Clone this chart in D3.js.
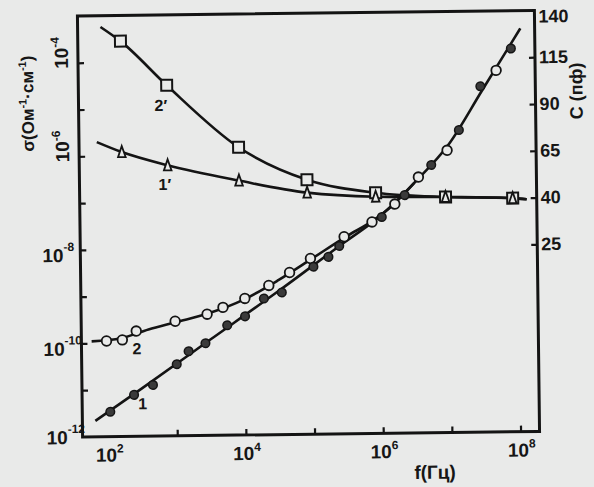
<!DOCTYPE html>
<html>
<head>
<meta charset="utf-8">
<script src="https://cdn.jsdelivr.net/npm/d3@7"></script>
<style>
  body { margin: 0; background: #e9eae9; }
  svg { display: block; }
  text { font-family: "Liberation Sans", Arial, sans-serif; font-weight: bold; fill: #161616; }
</style>
</head>
<body>
<div id="chart"></div>
<script>
// curve 1 : sigma, filled circles
var freq1  = [107, 239, 452, 1012, 1514, 2673, 5585, 1.02e4, 1.93e4, 3.53e4, 1.03e5, 1.71e5, 2.47e5, 1.04e6, 2.26e6, 5.58e6, 1.43e7, 2.99e7, 8.45e7];
var sigma1 = [3.4e-12, 7.7e-12, 1.24e-11, 3.4e-11, 6.4e-11, 9.4e-11, 2.24e-10, 3.44e-10, 8.2e-10, 1.09e-9, 3.8e-9, 6.1e-9, 1.04e-8, 4.2e-8, 1.22e-7, 5.3e-7, 2.9e-6, 2.47e-5, 1.56e-4];
// curve 2 : sigma, open circles
var freq2  = [97, 165, 264, 977, 2858, 4887, 1.02e4, 2.29e4, 4.62e4, 9.35e4, 2.92e5, 7.48e5, 1.62e6, 3.61e6, 9.55e6, 5.11e7];
var sigma2 = [1.11e-10, 1.16e-10, 1.78e-10, 2.82e-10, 3.91e-10, 5.43e-10, 8.3e-10, 1.55e-9, 2.9e-9, 5.7e-9, 1.63e-8, 3.32e-8, 7.9e-8, 2.94e-7, 1.08e-6, 5.36e-5];
// drawn (fitted) lines for 1 and 2
var fitFreq1  = [64.6, 316, 3162, 31623, 2.51e5, 1e6, 3.16e6, 1e7, 3.16e7, 1.17e8];
var fitSigma1 = [2.19e-12, 1.07e-11, 1.12e-10, 1.17e-9, 1.05e-8, 4.47e-8, 2.24e-7, 1.41e-6, 2.0e-5, 4.17e-4];
var fitFreq2  = [58.9, 158, 398, 1000, 3162, 1e4, 3.16e4, 1e5, 3.16e5, 7.94e5, 1.58e6, 3.16e6];
var fitSigma2 = [1.10e-10, 1.26e-10, 1.91e-10, 2.69e-10, 4.17e-10, 7.94e-10, 2.0e-9, 5.75e-9, 1.66e-8, 3.63e-8, 7.94e-8, 2.24e-7];

// capacitance curves 1' (triangles) and 2' (squares)
var capFreq = [175, 810, 8800, 8.6e4, 8.55e5, 8.9e6, 8.45e7];
var cap1 = [67.0, 59.6, 51.0, 44.1, 41.5, 40.9, 39.9];
var cap2 = [126.3, 102.4, 68.8, 51.0, 43.6, 40.9, 39.9];
var fitCapFreq1 = [76].concat(capFreq, [1.35e8]);
var fitCap1 = [72.5].concat(cap1, [39.5]);
var fitCapFreq2 = [90].concat(capFreq, [1.35e8]);
var fitCap2 = [134.0].concat(cap2, [39.5]);

// axes
var freqTicks = [1e3, 1e4, 1e5, 1e6, 1e7, 1e8];
var freqLabels = [2, 4, 6, 8];
var sigmaTicks = [1e-11, 1e-10, 1e-9, 1e-8, 1e-7, 1e-6, 1e-5, 1e-4];
var sigmaLabels = [-4, -6, -8, -10, -12];
var capTicks = [25, 40, 65, 90, 115, 140];
var capDecades = [1e-8, 1e-7, 1e-6, 1e-5, 1e-4, 1e-3];

var W = 594, H = 487;
var pl = 80, pr = 537, pt = 16, pb = 437;
var ink = "#141414", paper = "#e9eae9";

var svg = d3.select("#chart").append("svg").attr("width", W).attr("height", H);
// the scan is slightly tilted
var g = svg.append("g").attr("transform", "rotate(-0.7, 80, 226)");

var x = d3.scaleLog().domain([41.8, 1.89e8]).range([pl, pr]);
var y = d3.scaleLog().domain([1e-12, 1e-3]).range([pb, pt]);
// C axis is not linear, its ticks sit on the sigma decades
var yc = d3.scaleLinear().domain(capTicks).range(capDecades.map(function (v) { return y(v); }));

function pairs(a, b) { return a.map(function (v, i) { return [v, b[i]]; }); }

// ticks (pointing inward)
g.append("g").attr("transform", "translate(0," + pb + ")")
  .call(d3.axisBottom(x).tickValues(freqTicks).tickSize(-6).tickFormat(""));
g.append("g").attr("transform", "translate(" + pl + ",0)")
  .call(d3.axisLeft(y).tickValues(sigmaTicks).tickSize(-6).tickFormat(""));
g.append("g").attr("transform", "translate(" + pr + ",0)")
  .call(d3.axisRight(yc).tickValues(capTicks.slice(0, 5)).tickSize(-6).tickFormat(""));
g.selectAll(".domain").remove();
g.selectAll(".tick line").attr("stroke", ink).attr("stroke-width", 2.2);

g.append("rect").attr("x", pl).attr("y", pt)
  .attr("width", pr - pl).attr("height", pb - pt)
  .attr("fill", "none").attr("stroke", ink).attr("stroke-width", 3);

// bottom labels 10^n
var bl = g.selectAll(".xl").data(freqLabels).enter().append("text")
  .attr("x", function (d) { return x(Math.pow(10, d)) + 1; })
  .attr("y", 462).attr("text-anchor", "middle").style("font-size", "19px");
bl.append("tspan").text("10");
bl.append("tspan").attr("dy", -9).style("font-size", "12px").text(function (d) { return d; });

// left labels
var ll = g.selectAll(".yl").data(sigmaLabels.filter(function (d) { return d <= -8; })).enter().append("text")
  .attr("x", function (d) { return d == -12 ? 44 : 42; })
  .attr("y", function (d) { return Math.min(y(Math.pow(10, d)) + 12, 444); })
  .style("font-size", "19px");
ll.append("tspan").text("10");
ll.append("tspan").attr("dy", -11).style("font-size", "12px").text(function (d) { return d; });

var lr = g.selectAll(".ylr").data(sigmaLabels.filter(function (d) { return d > -8; })).enter().append("text")
  .attr("transform", function (d) { return "translate(70," + (y(Math.pow(10, d)) - 10) + ") rotate(-90)"; })
  .attr("text-anchor", "middle").style("font-size", "19px");
lr.append("tspan").text("10");
lr.append("tspan").attr("dy", -9).style("font-size", "12px").text(function (d) { return d; });

// right labels
g.selectAll(".cl").data(capTicks).enter().append("text")
  .attr("x", 541)
  .attr("y", function (d) { return Math.max(yc(d) + 6, 28); })
  .style("font-size", "18px")
  .text(function (d) { return d; });

// axis titles
var ty = g.append("text").attr("transform", "translate(35,103) rotate(-90)")
  .attr("text-anchor", "middle").style("font-size", "17px");
ty.append("tspan").text("σ(Ом");
ty.append("tspan").attr("dy", -7).style("font-size", "11px").text("-1");
ty.append("tspan").attr("dy", 7).text("·см");
ty.append("tspan").attr("dy", -7).style("font-size", "11px").text("-1");
ty.append("tspan").attr("dy", 7).text(")");

g.append("text").attr("transform", "translate(584,97) rotate(-90)")
  .attr("text-anchor", "middle").style("font-size", "18px").text("C (пф)");

g.append("text").attr("x", 432).attr("y", 483).attr("text-anchor", "middle")
  .style("font-size", "19px").text("f(Гц)");

// lines
var line = d3.line().x(function (d) { return x(d[0]); }).y(function (d) { return y(d[1]); }).curve(d3.curveMonotoneX);
var cline = d3.line().x(function (d) { return x(d[0]); }).y(function (d) { return yc(d[1]); }).curve(d3.curveMonotoneX);

[pairs(fitFreq1, fitSigma1), pairs(fitFreq2, fitSigma2)].forEach(function (p) {
  g.append("path").attr("d", line(p)).attr("fill", "none").attr("stroke", ink).attr("stroke-width", 2.6);
});
[pairs(fitCapFreq1, fitCap1), pairs(fitCapFreq2, fitCap2)].forEach(function (p) {
  g.append("path").attr("d", cline(p)).attr("fill", "none").attr("stroke", ink).attr("stroke-width", 2.6);
});

// markers
g.selectAll(".m2").data(pairs(freq2, sigma2)).enter().append("circle")
  .attr("cx", function (d) { return x(d[0]); }).attr("cy", function (d) { return y(d[1]); })
  .attr("r", 4.8).attr("fill", paper).attr("stroke", ink).attr("stroke-width", 1.8);
g.selectAll(".m1").data(pairs(freq1, sigma1)).enter().append("circle")
  .attr("cx", function (d) { return x(d[0]); }).attr("cy", function (d) { return y(d[1]); })
  .attr("r", 4.3).attr("fill", "#3a3a3a").attr("stroke", ink).attr("stroke-width", 1.5);
g.selectAll(".sq").data(pairs(capFreq, cap2)).enter().append("rect")
  .attr("x", function (d) { return x(d[0]) - 5.5; }).attr("y", function (d) { return yc(d[1]) - 5.5; })
  .attr("width", 11).attr("height", 11)
  .attr("fill", paper).attr("stroke", ink).attr("stroke-width", 2);
g.selectAll(".tr").data(pairs(capFreq, cap1)).enter().append("path")
  .attr("transform", function (d) { return "translate(" + x(d[0]) + "," + yc(d[1]) + ")"; })
  .attr("d", "M0,-6L3.8,5H-3.8Z")
  .attr("fill", paper).attr("stroke", ink).attr("stroke-width", 1.8);

// curve labels
var labels = [["2′", 156, 112], ["1′", 159, 191], ["2", 131, 355], ["1", 136, 410]];
g.selectAll(".lab").data(labels).enter().append("text")
  .attr("x", function (d) { return d[1]; }).attr("y", function (d) { return d[2]; })
  .style("font-size", "16px").text(function (d) { return d[0]; });
</script>
</body>
</html>
